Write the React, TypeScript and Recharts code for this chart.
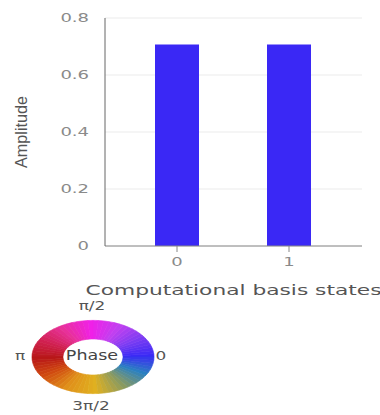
import { BarChart, Bar, XAxis, YAxis, CartesianGrid, Label, PieChart, Pie, Cell } from 'recharts';

const STATES = ['0', '1'];
const AMPLITUDES = [0.707, 0.707];
const Y_TICKS = [0, 0.2, 0.4, 0.6, 0.8];

// phase colour wheel, counter-clockwise from 0 (right)
const PHASE_STOPS = [
  '#3a2af5',
  '#7a3cf2',
  '#c040f0',
  '#f020e8',
  '#e8309a',
  '#d02050',
  '#b81818',
  '#d04a10',
  '#e0901a',
  '#e0b020',
  '#8a9a60',
  '#2a80c0',
  '#3a2af5',
];
const PHASE_LABELS = [
  { text: 'π/2', x: 92, y: 305 },
  { text: 'π', x: 20, y: 355 },
  { text: '0', x: 161, y: 355 },
  { text: '3π/2', x: 91, y: 405 },
];

const FONT = '"DejaVu Sans", sans-serif';

const chartData = STATES.map((state, i) => ({ state, amplitude: AMPLITUDES[i] }));

function hex(c: string) {
  return [1, 3, 5].map((i) => parseInt(c.slice(i, i + 2), 16));
}

function mix(a: string, b: string, t: number) {
  const ca = hex(a);
  const cb = hex(b);
  return (
    '#' +
    ca
      .map((v, i) => Math.round(v + (cb[i] - v) * t).toString(16).padStart(2, '0'))
      .join('')
  );
}

const STEPS = 6;
const wheelSlices: { value: number; color: string }[] = [];
for (let s = 0; s < PHASE_STOPS.length - 1; s++) {
  for (let k = 0; k < STEPS; k++) {
    wheelSlices.push({ value: 1, color: mix(PHASE_STOPS[s], PHASE_STOPS[s + 1], k / STEPS) });
  }
}

const YTick = ({ x, y, payload }: any) => (
  <text
    transform={`translate(${x},${y}) scale(1.5,1)`}
    textAnchor="end"
    dominantBaseline="central"
    fill="#8a8a8a"
    fontSize={12}
    fontFamily={FONT}
  >
    {String(payload.value)}
  </text>
);

const XTick = ({ x, y, payload }: any) => (
  <text
    transform={`translate(${x},${y + 5}) scale(1.5,1)`}
    textAnchor="middle"
    dominantBaseline="central"
    fill="#8a8a8a"
    fontSize={12}
    fontFamily={FONT}
  >
    {payload.value}
  </text>
);

export default function App() {
  return (
    <div
      style={{
        position: 'absolute',
        left: 0,
        top: 0,
        width: 380,
        height: 415,
        background: '#fff',
        overflow: 'hidden',
      }}
    >
      <BarChart width={380} height={300} data={chartData} margin={{ top: 18, right: 18, left: 0, bottom: 0 }}>
        <CartesianGrid horizontal vertical={false} stroke="#ebebeb" />
        <XAxis
          dataKey="state"
          height={54}
          padding={{ left: 16, right: 17 }}
          axisLine={{ stroke: '#888' }}
          tickLine={{ stroke: '#888' }}
          tickSize={6}
          tickMargin={5}
          tick={<XTick />}
        >
          <Label
            content={({ viewBox }: any) => (
              <text
                x={viewBox.x + viewBox.width / 2}
                y={viewBox.y + 44}
                textAnchor="middle"
                dominantBaseline="central"
                textLength={296}
                lengthAdjust="spacingAndGlyphs"
                fill="#555"
                fontSize={14}
                fontFamily={FONT}
              >
                Computational basis states
              </text>
            )}
          />
        </XAxis>
        <YAxis
          width={105}
          domain={[0, 0.8]}
          ticks={Y_TICKS}
          axisLine={{ stroke: '#666' }}
          tickLine={false}
          tickSize={6}
          tickMargin={10}
          tick={<YTick />}
        >
          <Label
            content={({ viewBox }: any) => {
              const cy = viewBox.y + viewBox.height / 2;
              return (
                <text
                  x={21}
                  y={cy}
                  transform={`rotate(-90, 21, ${cy})`}
                  textAnchor="middle"
                  dominantBaseline="central"
                  textLength={72}
                  lengthAdjust="spacingAndGlyphs"
                  fill="#555"
                  fontSize={17}
                  fontFamily='"Liberation Sans", sans-serif'
                >
                  Amplitude
                </text>
              );
            }}
          />
        </YAxis>
        <Bar dataKey="amplitude" fill="#3a28f5" barSize={44} isAnimationActive={false} />
      </BarChart>

      <div
        style={{
          position: 'absolute',
          left: 28,
          top: 292,
          width: 130,
          height: 130,
          transform: 'scaleY(0.6)',
          transformOrigin: '65px 65px',
        }}
      >
        <PieChart width={130} height={130} margin={{ top: 0, right: 0, bottom: 0, left: 0 }}>
          <Pie
            data={wheelSlices}
            dataKey="value"
            cx={65}
            cy={65}
            innerRadius={30}
            outerRadius={61}
            startAngle={0}
            endAngle={360}
            isAnimationActive={false}
          >
            {wheelSlices.map((s, i) => (
              <Cell key={i} fill={s.color} stroke={s.color} strokeWidth={0.8} />
            ))}
          </Pie>
        </PieChart>
      </div>

      <div
        style={{
          position: 'absolute',
          left: 92,
          top: 355,
          transform: 'translate(-50%, -50%) scaleX(1.25)',
          fontFamily: FONT,
          fontSize: 14,
          color: '#444',
          lineHeight: 1,
          whiteSpace: 'nowrap',
        }}
      >
        Phase
      </div>
      {PHASE_LABELS.map((l) => (
        <div
          key={l.text}
          style={{
            position: 'absolute',
            left: l.x,
            top: l.y,
            transform: 'translate(-50%, -50%) scaleX(1.3)',
            fontFamily: FONT,
            fontSize: 13,
            color: '#555',
            lineHeight: 1,
            whiteSpace: 'nowrap',
          }}
        >
          {l.text}
        </div>
      ))}
    </div>
  );
}
